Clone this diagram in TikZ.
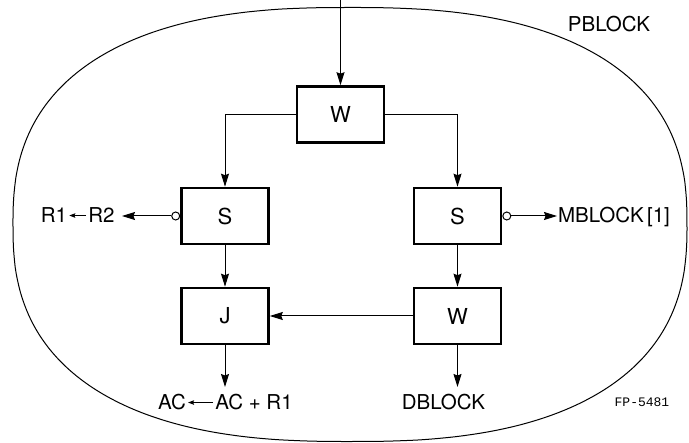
\documentclass[tikz,border=0pt]{standalone}
\usepackage{fontspec}
\setmainfont{TeX Gyre Heros}
\newfontfamily\fpfont{Liberation Mono}
\usetikzlibrary{arrows.meta}
\begin{document}
\begin{tikzpicture}[x=1pt,y=-1pt,
  blk/.style={draw, line width=2.6pt, minimum width=87pt, minimum height=56pt, inner sep=0pt, font=\fontsize{22}{22}\selectfont},
  ln/.style={line width=1pt},
  arr/.style={ln, -{Stealth[length=13pt,width=8pt,inset=1.5pt]}},
  sarr/.style={line width=0.9pt, -{Stealth[length=6pt,width=4.5pt,inset=1pt]}, shorten >=2pt, shorten <=2pt},
  lbl/.style={inner sep=0pt, anchor=base, font=\fontsize{20.5}{20.5}\selectfont},
  dot/.style={circle, draw, fill=white, line width=1pt, minimum size=8pt, inner sep=0pt}
]
\useasboundingbox (0,0) rectangle (689,443);
% outer oval (superellipse)
\draw[line width=1pt] plot[domain=0.5:358.5, samples=180, smooth]
  ({350+337*sign(cos(\x))*pow(abs(cos(\x)),0.8)},
   {224.5+217*sign(sin(\x))*pow(abs(sin(\x)),0.8)}) -- cycle;
% boxes
\node[blk] (w1) at (340.5,114.5) {W};
\node[blk] (s1) at (225,216) {S};
\node[blk] (s2) at (457.5,216) {S};
\node[blk] (j)  at (225,316) {J};
\node[blk] (w2) at (457.5,316) {W};
% side outputs
\node[dot, anchor=east] (c1) at (s1.west) {};
\node[dot, anchor=west] (c2) at (s2.east) {};
% labels
\node[lbl] (r1) at (54,223) {R1};
\node[lbl] (r2) at (101.5,223) {R2};
\node[lbl] (mb) at (614,223) {MBLOCK\,[1]};
\node[lbl] (ac1) at (172,410) {AC};
\node[lbl] (ac2) at (254,410) {AC + R1};
\node[lbl] (db) at (443.5,410) {DBLOCK};
\node[lbl] (pb) at (609,32) {PBLOCK};
\node[inner sep=0pt, anchor=base, font=\fpfont\fontsize{13}{13}\selectfont] (fp) at (642,407) {FP-5481};
% connectors
\coordinate (top) at (340.5,0);
\draw[arr] (top) -- (w1.north);
\draw[arr] (w1.west) -| (s1.north);
\draw[arr] (w1.east) -| (s2.north);
\draw[arr] (s1) -- (j);
\draw[arr] (s2) -- (w2);
\draw[arr] (w2) -- (j);
\coordinate (jo) at (225,387);
\coordinate (wo) at (457.5,387);
\draw[arr] (j) -- (jo);
\draw[arr] (w2) -- (wo);
\coordinate (lo) at (122,216);
\coordinate (ro) at (557,216);
\draw[arr] (c1) -- (lo);
\draw[arr] (c2) -- (ro);
\draw[sarr] (r2) -- (r1);
\draw[sarr] (ac2) -- (ac1);
\end{tikzpicture}
\end{document}
